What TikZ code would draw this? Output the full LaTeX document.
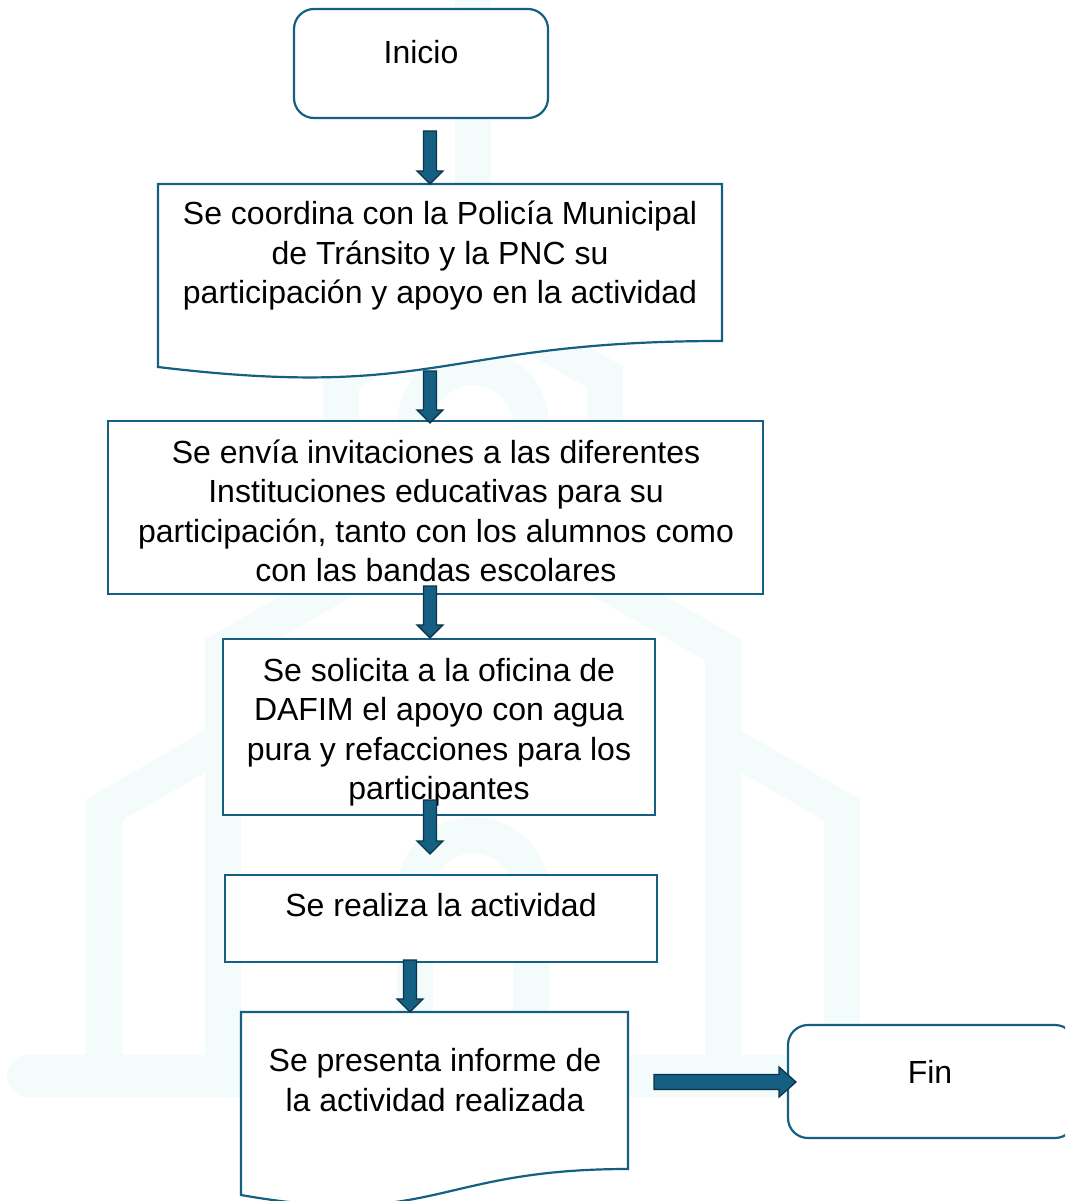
\documentclass[tikz,border=0pt]{standalone}
\usepackage{fontspec}
\setmainfont{Liberation Sans}
\usetikzlibrary{calc}
\definecolor{acc}{HTML}{156082}
\definecolor{accdark}{HTML}{0C3347}
\definecolor{wm}{HTML}{F3FBFB}
\begin{document}
\begin{tikzpicture}[x=1pt,y=-1pt,
  box/.style={draw=acc, line width=2.2pt, fill=white, inner sep=0pt},
  term/.style={box, rounded corners=20pt},
  frame/.style={inner sep=0pt, outer sep=0pt},
  docline/.style={draw=acc, line width=2.2pt, fill=white, line join=miter},
  lbl/.style={font=\fontsize{32}{39.5}\selectfont, align=center, inner sep=0pt, text=black},
  wmline/.style={draw=wm, line width=36pt, line join=miter},
  downarrow/.style={draw=accdark, fill=acc, line width=1.3pt, line join=miter,
    to path={let \p1=(\tikztostart), \p2=(\tikztotarget) in
      (\x1-6.5pt,\y1) -- (\x1+6.5pt,\y1) -- (\x1+6.5pt,\y2+13pt) -- (\x1+13pt,\y2+13pt)
      -- (\x1,\y2) -- (\x1-13pt,\y2+13pt) -- (\x1-6.5pt,\y2+13pt) -- cycle}},
  rightarrow/.style={draw=accdark, fill=acc, line width=1.3pt, line join=miter,
    to path={let \p1=(\tikztostart), \p2=(\tikztotarget) in
      (\x1,\y1+7.5pt) -- (\x1,\y1-7.5pt) -- (\x2-17pt,\y1-7.5pt) -- (\x2-17pt,\y1-15pt)
      -- (\x2,\y1) -- (\x2-17pt,\y1+15pt) -- (\x2-17pt,\y1+7.5pt) -- cycle}}
]
\useasboundingbox (0,0) rectangle (1065,1201);
\clip (0,0) rectangle (1065,1201);
\fill[white] (0,0) rectangle (1065,1201);

% faint watermark (building)
\draw[wmline, line width=42pt, line cap=round] (28,1076) -- (918,1076);
\draw[wmline] (104,1060) -- (104,810) -- (223,741);
\draw[wmline] (842,1060) -- (842,810) -- (723,741);
\draw[wmline] (223,1060) -- (223,650) -- (473,506) -- (723,650) -- (723,1060);
\draw[wmline] (341,582) -- (341,377) -- (473,301) -- (605,377) -- (605,582);
\draw[wmline] (473,-5) -- (473,301);
\draw[wmline] (415,540) -- (415,425) arc[start angle=180, end angle=0, radius=58pt] -- (531,540);
\draw[wmline] (415,1060) -- (415,893) arc[start angle=180, end angle=0, radius=58pt] -- (531,1060);

% shapes
\node[term, minimum width=254pt, minimum height=109pt] (inicio) at (421,63.5) {};
\node[frame, minimum width=564pt, minimum height=196pt] (doc1) at (440,282) {};
\draw[docline] (doc1.north west) -- (doc1.north east) -- ($(doc1.north east)+(0,157)$)
  .. controls ($(doc1.north)+(0,157)$) and ($(doc1.north)+(0,217)$) .. ($(doc1.north west)+(0,183)$) -- cycle;
\node[box, minimum width=655pt, minimum height=173pt] (box3) at (435.5,507.5) {};
\node[box, minimum width=432pt, minimum height=176pt] (box4) at (439,727) {};
\node[box, minimum width=432pt, minimum height=87pt] (box5) at (441,918.5) {};
\node[frame, minimum width=387pt, minimum height=196pt] (doc2) at (434.5,1110) {};
\draw[docline] (doc2.north west) -- (doc2.north east) -- ($(doc2.north east)+(0,157)$)
  .. controls ($(doc2.north)+(0,157)$) and ($(doc2.north)+(0,217)$) .. ($(doc2.north west)+(0,183)$) -- cycle;
\node[term, minimum width=287pt, minimum height=113pt] (fin) at (931.5,1081.5) {};

% texts
\node[lbl] (t-inicio) at (421,52) {Inicio};
\node[lbl] (t-doc1) at (440,256) {Se coordina con la Policía Municipal\\de Tránsito y la PNC su\\participación y apoyo en la actividad};
\node[lbl] (t-box3) at (436,511) {Se envía invitaciones a las diferentes\\Instituciones educativas para su\\participación, tanto con los alumnos como\\con las bandas escolares};
\node[lbl] (t-box4) at (439,732) {Se solicita a la oficina de\\DAFIM el apoyo con agua\\pura y refacciones para los\\participantes};
\node[lbl] (t-box5) at (441,905) {Se realiza la actividad};
\node[lbl] (t-doc2) at (435,1080) {Se presenta informe de\\la actividad realizada};
\node[lbl] (t-fin) at (930,1072) {Fin};

% connectors
\coordinate (a1s) at (430,131);
\coordinate (a2s) at (430,371);
\coordinate (a3s) at (430,586);
\coordinate (a4s) at (430,800);
\coordinate (a4e) at (430,854);
\coordinate (a5s) at (410,960);
\coordinate (a6s) at (654,1082);
\coordinate (a6e) at (796,1082);
\draw[downarrow] (a1s) to (doc1.north -| a1s);
\draw[downarrow] (a2s) to ($(box3.north -| a2s)+(0,3)$);
\draw[downarrow] (a3s) to (box4.north -| a3s);
\draw[downarrow] (a4s) to (a4e);
\draw[downarrow] (a5s) to (doc2.north -| a5s);
\draw[rightarrow] (a6s) to (a6e);
\end{tikzpicture}
\end{document}
